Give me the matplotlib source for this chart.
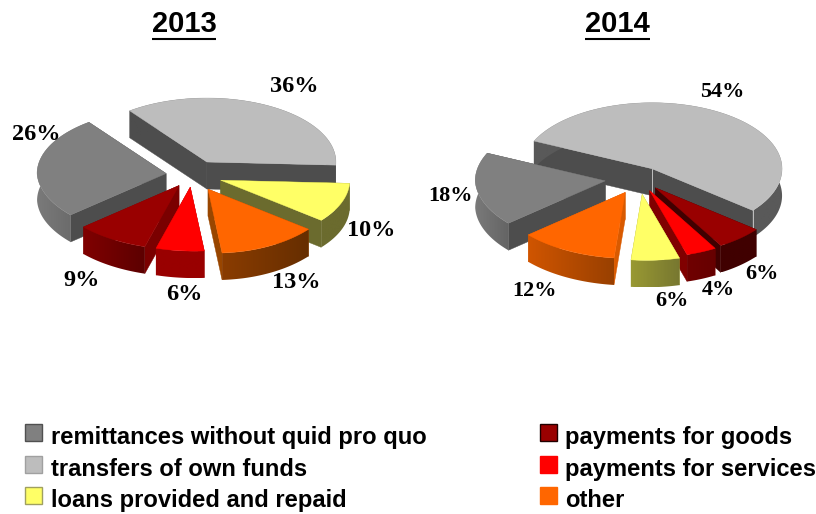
import numpy as np
import matplotlib
matplotlib.use("Agg")
import matplotlib.pyplot as plt
from matplotlib.patches import Polygon, Rectangle
from matplotlib.colors import to_rgb

# ---- data ----
categories = ["remittances without quid pro quo", "transfers of own funds",
              "loans provided and repaid", "payments for goods",
              "payments for services", "other"]
years = ["2013", "2014"]
shares_2013 = {"transfers of own funds": 36, "loans provided and repaid": 10, "other": 13,
               "payments for services": 6, "payments for goods": 9,
               "remittances without quid pro quo": 26}
shares_2014 = {"transfers of own funds": 54, "payments for goods": 6, "payments for services": 4,
               "loans provided and repaid": 6, "other": 12,
               "remittances without quid pro quo": 18}

# ---- style ----
TOP = {"remittances without quid pro quo": "#808080", "transfers of own funds": "#BDBDBD",
       "loans provided and repaid": "#FFFF66", "payments for goods": "#990000",
       "payments for services": "#FF0000", "other": "#FF6600"}
SHADE_2013 = {  # wall, rim left, rim right
    "remittances without quid pro quo": ("#4D4D4D", "#7A7A7A", "#646464"),
    "transfers of own funds": ("#4D4D4D", "#4D4D4D", "#4D4D4D"),
    "loans provided and repaid": ("#6B6B2E", "#6B6B2E", "#6B6B2E"),
    "other": ("#994600", "#8A3C00", "#662E00"),
    "payments for services": ("#990000", "#990000", "#990000"),
    "payments for goods": ("#7A0000", "#800000", "#5C0000")}
SHADE_2014 = {
    "remittances without quid pro quo": ("#4D4D4D", "#7A7A7A", "#646464"),
    "transfers of own funds": ("#4D4D4D", "#595959", "#595959"),
    "loans provided and repaid": ("#999933", "#999933", "#777730"),
    "other": ("#D95A00", "#D05500", "#994000"),
    "payments for services": ("#800000", "#700000", "#660000"),
    "payments for goods": ("#400000", "#400000", "#400000")}
EXPLODE_2013 = {"remittances without quid pro quo": .21, "transfers of own funds": .23,
                "loans provided and repaid": .23, "other": .25,
                "payments for services": .19, "payments for goods": .197}
EXPLODE_2014 = {"remittances without quid pro quo": .27, "transfers of own funds": .175,
                "loans provided and repaid": .24, "other": .24,
                "payments for services": .2, "payments for goods": .185}
ORDER_2013 = ["transfers of own funds", "remittances without quid pro quo",
              "loans provided and repaid", "other", "payments for goods", "payments for services"]
ORDER_2014 = ["transfers of own funds", "remittances without quid pro quo",
              "payments for goods", "payments for services", "loans provided and repaid", "other"]
LABELS_2013 = {"transfers of own funds": (294, 87), "remittances without quid pro quo": (36.5, 134),
               "loans provided and repaid": (371, 230), "other": (296, 282),
               "payments for services": (184, 295), "payments for goods": (82, 280)}
LABELS_2014 = {"transfers of own funds": (722, 92), "remittances without quid pro quo": (451, 196),
               "payments for goods": (762, 274), "payments for services": (718, 290),
               "loans provided and repaid": (672, 301), "other": (535, 291)}

fig = plt.figure(figsize=(8.16, 5.14), dpi=100)
ax = fig.add_axes([0, 0, 1, 1])
ax.set_xlim(0, 816)
ax.set_ylim(514, 0)
ax.axis("off")
SKEW = 0.065  # the source's perspective draws the front of each slice slightly to the right


def pie3d(shares, center, start, rx, ry, depth, explode, shade, order, seam=False):
    total = sum(shares.values())
    a = start
    spans = {}
    for k, v in shares.items():
        b = a - 360 * v / total
        spans[k] = (a, b)
        a = b
    for z, k in enumerate(order):
        a0, a1 = spans[k]
        mid = np.radians((a0 + a1) / 2)
        e = explode[k]
        ox = center[0] + e * rx * np.cos(mid)
        oy = center[1] - e * ry * np.sin(mid)
        th = np.radians(np.linspace(a0, a1, 120))
        ys = oy - ry * np.sin(th)
        xs = ox + rx * np.cos(th) + SKEW * np.maximum(0, ys - oy) * np.clip((.75 - np.cos(th)) / .5, 0, 1)
        wall, rl, rr = shade[k]
        zb = 2 + z * 3
        # radial walls
        for (px, py) in sorted([(xs[0], ys[0]), (xs[-1], ys[-1])], key=lambda p: p[1]):
            ax.add_patch(Polygon([(ox, oy), (px, py), (px, py + depth), (ox, oy + depth)],
                                 closed=True, fc=wall, ec=wall, lw=.3, zorder=zb))
        # outer rim with a left-to-right shading, clipped gradient
        rim = Polygon(np.vstack([np.column_stack([xs, ys]), np.column_stack([xs, ys + depth])[::-1]]),
                      closed=True, fc="none", ec="none", transform=ax.transData)
        ax.add_patch(rim)
        c0, c1 = np.array(to_rgb(rl)), np.array(to_rgb(rr))
        t = np.linspace(0, 1, 128)[:, None]
        grad = (c0 + (c1 - c0) * t)[None, :, :]
        im = ax.imshow(grad, extent=(xs.min(), xs.max(), ys.max() + depth, ys.min()), aspect="auto",
                       zorder=zb + 1, interpolation="bilinear")
        im.set_clip_path(rim)
        # top face
        ax.add_patch(Polygon(np.vstack([[ox, oy], np.column_stack([xs, ys])]), closed=True,
                             fc=TOP[k], ec=TOP[k], lw=.3, zorder=zb + 2))
        if seam and k == order[0]:
            ax.plot([ox, ox], [oy, oy + depth], color="#D0D0D0", lw=.6, zorder=zb + 2)
            ax.plot([xs[-1], xs[-1]], [ys[-1], ys[-1] + depth], color="#D0D0D0", lw=.6, zorder=zb + 2)


pie3d(shares_2013, (193, 175), 126.8, 129, 64, 27, EXPLODE_2013, SHADE_2013, ORDER_2013)
pie3d(shares_2014, (640, 178.5), 155.2, 130, 66, 27, EXPLODE_2014, SHADE_2014, ORDER_2014, seam=True)
ax.set_xlim(0, 816)
ax.set_ylim(514, 0)


def pct_labels(shares, pos, size):
    for k, v in shares.items():
        ax.text(*pos[k], f"{v}%", ha="center", va="center", fontsize=size, fontweight="bold",
                family="Liberation Serif", color="black", zorder=50)


pct_labels(shares_2013, LABELS_2013, 17.5)
pct_labels(shares_2014, LABELS_2014, 16)

# titles with underline
fig.canvas.draw()
for yr, cx in zip(years, (184, 617.5)):
    t = ax.text(cx, 24.5, yr, ha="center", va="center", fontsize=21, fontweight="bold",
                family="Liberation Sans", color="black", zorder=50)
    bb = t.get_window_extent(fig.canvas.get_renderer())
    ax.plot([cx - bb.width / 2, cx + bb.width / 2], [38.5, 38.5], color="black", lw=1.5,
            solid_capstyle="butt", zorder=50)

# legend
LEGEND_X = (25, 540)
LEGEND_Y = (424, 456, 487)
EDGE = {"remittances without quid pro quo": "#505050", "transfers of own funds": "#A0A0A0",
        "loans provided and repaid": "#A0A060", "payments for goods": "#200000",
        "payments for services": "#FF0000", "other": "#FF6600"}
for i, cat in enumerate(categories):
    col, row = divmod(i, 3)
    ax.add_patch(Rectangle((LEGEND_X[col], LEGEND_Y[row]), 16.5, 16.5, fc=TOP[cat], ec=EDGE[cat], lw=1))
    ax.text(LEGEND_X[col] + 26 - col, LEGEND_Y[row] + 13.5, cat, ha="left", va="center", fontsize=17.1,
            fontweight="bold", family="Liberation Sans", color="black")

fig.savefig("out.png", dpi=100, facecolor="white")
